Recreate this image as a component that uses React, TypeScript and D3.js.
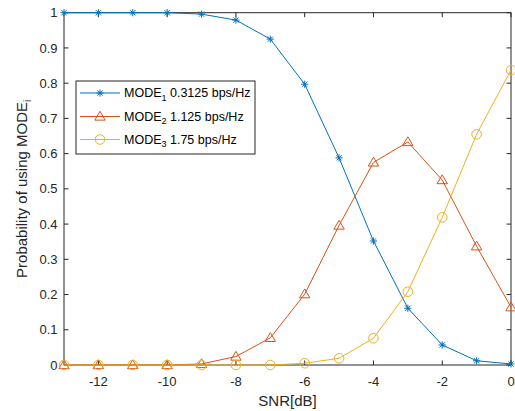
import React from "react";
import * as d3 from "d3";

const snr = [-13, -12, -11, -10, -9, -8, -7, -6, -5, -4, -3, -2, -1, 0];
const mode1 = [1, 1, 1, 1, 0.996, 0.979, 0.925, 0.797, 0.588, 0.352, 0.161, 0.057, 0.012, 0.003];
const mode2 = [0, 0, 0, 0, 0.003, 0.024, 0.077, 0.201, 0.396, 0.575, 0.633, 0.525, 0.337, 0.164];
const mode3 = [0, 0, 0, 0, 0, 0, 0, 0.005, 0.019, 0.076, 0.208, 0.419, 0.655, 0.837];
const xTicks = [-12, -10, -8, -6, -4, -2, 0];
const yTicks = [0, 0.1, 0.2, 0.3, 0.4, 0.5, 0.6, 0.7, 0.8, 0.9, 1];
const seriesNames = ["1", "2", "3"];
const seriesRates = ["0.3125 bps/Hz", "1.125 bps/Hz", "1.75 bps/Hz"];
const colors = ["#0072BD", "#D95319", "#EDB120"];

const W = 515, H = 411;
const L = 64, R = 511, T = 12.7, B = 365;
const font = "'Liberation Sans', Arial, Helvetica, sans-serif";

function Marker({ kind, x, y, color }: { kind: number; x: number; y: number; color: string }) {
  if (kind === 0) {
    const r = 3.6, d = 2.6;
    return (
      <g stroke={color} strokeWidth={1}>
        <line x1={x - r} y1={y} x2={x + r} y2={y} />
        <line x1={x} y1={y - r} x2={x} y2={y + r} />
        <line x1={x - d} y1={y - d} x2={x + d} y2={y + d} />
        <line x1={x - d} y1={y + d} x2={x + d} y2={y - d} />
      </g>
    );
  }
  if (kind === 1) {
    const s = 5.2;
    return (
      <path
        d={`M${x},${y - s} L${x + s},${y + s * 0.7} L${x - s},${y + s * 0.7} Z`}
        fill="none"
        stroke={color}
        strokeWidth={1}
      />
    );
  }
  return <circle cx={x} cy={y} r={4.8} fill="none" stroke={color} strokeWidth={1} />;
}

export default function App() {
  const x = d3.scaleLinear().domain([-13, 0]).range([L, R]);
  const y = d3.scaleLinear().domain([0, 1]).range([B, T]);
  const series = [mode1, mode2, mode3];
  const line = d3
    .line<number>()
    .x((_, i) => x(snr[i]))
    .y((d) => y(d));
  const tl = 4.5;
  const axisColor = "#262626";

  const lgX = 76, lgY = 81, lgW = 179, lgH = 73;
  const rowY = [93, 116.5, 139.5];

  return (
    <svg width={W} height={H} style={{ position: "absolute", left: 0, top: 0, background: "#fff" }} fontFamily={font}>
      <rect x={0} y={0} width={W} height={H} fill="#fff" />
      <rect x={L} y={T} width={R - L} height={B - T} fill="none" stroke={axisColor} strokeWidth={1} />
      {xTicks.map((t) => (
        <g key={"x" + t}>
          <line x1={x(t)} y1={B} x2={x(t)} y2={B - tl} stroke={axisColor} />
          <line x1={x(t)} y1={T} x2={x(t)} y2={T + tl} stroke={axisColor} />
          <text x={x(t)} y={386} textAnchor="middle" fontSize={13} fill={axisColor}>
            {t}
          </text>
        </g>
      ))}
      {yTicks.map((t) => (
        <g key={"y" + t}>
          <line x1={L} y1={y(t)} x2={L + tl} y2={y(t)} stroke={axisColor} />
          <line x1={R} y1={y(t)} x2={R - tl} y2={y(t)} stroke={axisColor} />
          <text x={57.5} y={y(t) + 4.6} textAnchor="end" fontSize={13} fill={axisColor}>
            {String(t)}
          </text>
        </g>
      ))}
      {series.map((s, k) => (
        <g key={"s" + k}>
          <path d={line(s) || ""} fill="none" stroke={colors[k]} strokeWidth={1} />
          {s.map((v, i) => (
            <Marker key={i} kind={k} x={x(snr[i])} y={y(v)} color={colors[k]} />
          ))}
        </g>
      ))}
      <rect x={lgX} y={lgY} width={lgW} height={lgH} fill="#fff" stroke={axisColor} strokeWidth={1} />
      {seriesNames.map((n, k) => (
        <g key={"l" + k}>
          <line x1={80} y1={rowY[k]} x2={120} y2={rowY[k]} stroke={colors[k]} strokeWidth={1} />
          <Marker kind={k} x={100} y={rowY[k]} color={colors[k]} />
          <text x={124} y={rowY[k] + 4.4} fontSize={12.5} fill="#000">
            MODE
            <tspan fontSize={9} dy={3.5}>{n}</tspan>
            <tspan dy={-3.5}>{" " + seriesRates[k]}</tspan>
          </text>
        </g>
      ))}
      <text x={(L + R) / 2} y={405.5} textAnchor="middle" fontSize={15} fill={axisColor}>
        SNR[dB]
      </text>
      <text
        transform={`translate(27, ${(T + B) / 2}) rotate(-90)`}
        textAnchor="middle"
        fontSize={15}
        fill={axisColor}
      >
        Probability of using MODE
        <tspan fontSize={10} dy={4}>i</tspan>
      </text>
    </svg>
  );
}
